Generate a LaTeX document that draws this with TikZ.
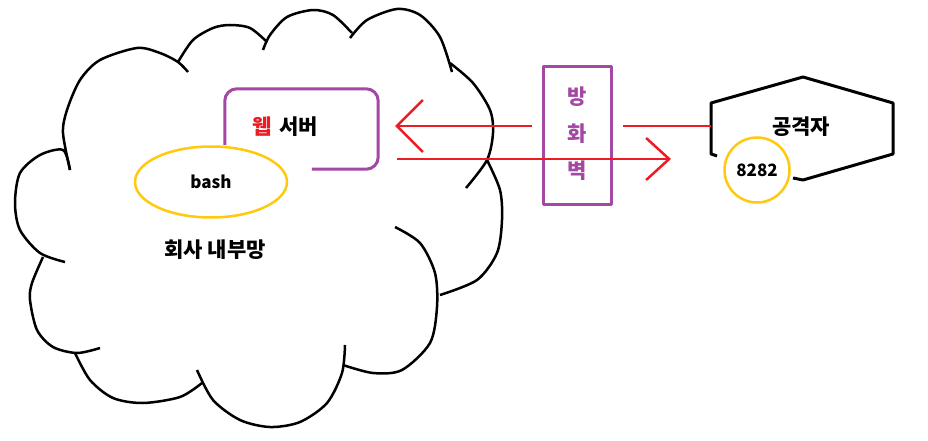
\documentclass[tikz,border=0pt]{standalone}
\usepackage{fontspec}
\setmainfont{Noto Sans CJK KR}
\usetikzlibrary{arrows.meta,positioning,shapes.geometric}
\definecolor{Red}{HTML}{ED1C24}
\definecolor{Purple}{HTML}{A349A4}
\definecolor{Gold}{HTML}{FFC90E}

\begin{document}
\begin{tikzpicture}[x=1pt,y=-1pt,line join=round,
 cloudline/.style={line width=2.5pt},
 lbl/.style={font=\fontsize{21}{24}\selectfont\bfseries,inner sep=0pt},
 small/.style={font=\fontsize{17}{19}\selectfont\bfseries,inner sep=0pt},
 redline/.style={draw=Red,line width=2.5pt}]
\useasboundingbox[fill=white] (0,0) rectangle (928,441);
% cloud
\draw[cloudline] plot[smooth] coordinates {(70,170) (63,133) (67,110) (80,80) (100,60) (137,48) (160,53) (178,62) (188,72)};
\draw[cloudline] plot[smooth] coordinates {(178,62) (193,40) (213,28) (230,25) (250,28) (267,42)};
\draw[cloudline] plot[smooth] coordinates {(263,50) (270,35) (287,17) (313,10) (333,15) (352,33)};
\draw[cloudline] plot[smooth] coordinates {(350,38) (367,20) (397,9) (420,15) (440,37) (452,72)};
\draw[cloudline] plot[smooth] coordinates {(450,63) (473,83) (490,110) (493,133) (487,160) (466,188)};
\draw[cloudline] plot[smooth] coordinates {(487,160) (500,190) (502,220) (497,253) (477,280) (440,295)};
\draw[cloudline] plot[smooth] coordinates {(395,227) (420,243) (435,273) (437,307) (430,343) (402,370) (373,373) (343,365)};
\draw[cloudline] plot[smooth] coordinates {(345,345) (342,373) (327,403) (300,422) (270,427) (240,420) (213,400) (197,370)};
\draw[cloudline] plot[smooth] coordinates {(202,383) (180,397) (143,403) (113,398) (90,380) (75,353)};
\draw[cloudline] plot[smooth] coordinates {(43,257) (32,283) (30,300) (37,330) (53,347) (77,353) (100,348)};
\draw[cloudline] plot[smooth] coordinates {(65,262) (40,253) (20,230) (15,203) (20,173) (40,155) (63,150) (70,170)};
\node[lbl] (net) at (215,250) {회사 내부망};

% web server
\node[minimum width=153,minimum height=80,inner sep=0pt] (web) at (301.5,129) {};
\draw[Purple,line width=3pt,rounded corners=12pt] ([xshift=87]web.south west) -- (web.south east)
 -- (web.north east) -- (web.north west) -- ([yshift=24]web.south west);
\node[lbl] (webtxt) at (285,127) {\textcolor{Red}{웹}\hspace{3pt} 서버};
\node[ellipse,draw=Gold,line width=2.5pt,minimum width=152,minimum height=71,small] (bash) at (211,182) {bash};

% firewall
\node[draw=Purple,line width=3pt,minimum width=68,minimum height=137] (fw) at (577,135.5) {};
\foreach \c [count=\i] in {방,화,벽}
 \node[lbl,text=Purple] (fw\i) at (577,60+37*\i) {\c};

% attacker
\draw[line width=3pt] (717,156) -- (711,154) -- (711,103) -- (803,77) -- (893,103) -- (893,154)
 -- (803,180) -- (793,178);
\node[lbl] (atk) at (801,127) {공격자};
\node[circle,draw=Gold,line width=2.5pt,minimum size=65,small] (port) at (757,170) {8282};

% traffic
\coordinate (atkw) at (711,126);
\coordinate (hit) at (671,159);
\draw[redline] (atkw) -- ([xshift=10]fw.east |- atkw);
\draw[redline,-{Straight Barb[length=26pt,width=52pt]}] ([xshift=-10]fw.west |- atkw) -- ([xshift=17]web.east |- atkw);
\draw[redline,-{Straight Barb[length=23pt,width=42pt]}] ([xshift=19]web.east |- hit) -- (hit);
\end{tikzpicture}
\end{document}
